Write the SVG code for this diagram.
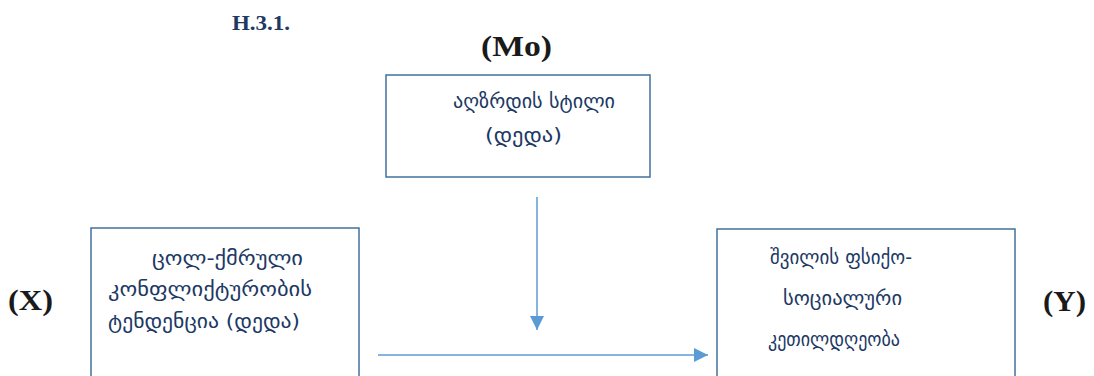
<svg xmlns="http://www.w3.org/2000/svg" width="1094" height="376" viewBox="0 0 1094 376">
<style>
.box{fill:#fff;stroke:#41719c;stroke-width:1.5}
.geo{font-family:"DejaVu Sans",sans-serif;font-size:20px;fill:#203864}
.lbl{font-family:"Liberation Serif",serif;font-weight:bold;font-size:29px;fill:#1a1a1a}
.hd{font-family:"Liberation Serif",serif;font-weight:bold;font-size:20px;fill:#203864}
.conn{stroke:#5b9bd5;stroke-width:1.5;fill:none}
</style>
<defs>
<marker id="ah" markerUnits="userSpaceOnUse" markerWidth="14" markerHeight="14" viewBox="0 0 14 14" refX="14" refY="7" orient="auto">
<path d="M0,0 L14,7 L0,14 Z" fill="#5b9bd5"/>
</marker>
</defs>
<rect width="1094" height="376" fill="#fff"/>
<text class="hd" x="232" y="30" textLength="58" lengthAdjust="spacingAndGlyphs">H.3.1.</text>
<text class="lbl" x="481" y="56" textLength="71" lengthAdjust="spacingAndGlyphs">(Mo)</text>
<text class="lbl" x="8" y="310" textLength="45" lengthAdjust="spacingAndGlyphs">(X)</text>
<text class="lbl" x="1043" y="311" textLength="43" lengthAdjust="spacingAndGlyphs">(Y)</text>
<g id="node-mo">
<rect class="box" x="386" y="75" width="264" height="102"/>
<text class="geo" x="453" y="108" textLength="162" lengthAdjust="spacingAndGlyphs">აღზრდის სტილი</text>
<text class="geo" x="485" y="142" textLength="77" lengthAdjust="spacingAndGlyphs">(დედა)</text>
</g>
<g id="node-x">
<rect class="box" x="91" y="228" width="268" height="160"/>
<text class="geo" x="152" y="265" textLength="151" lengthAdjust="spacingAndGlyphs">ცოლ-ქმრული</text>
<text class="geo" x="108" y="296" textLength="204" lengthAdjust="spacingAndGlyphs">კონფლიქტურობის</text>
<text class="geo" x="108" y="328" textLength="192" lengthAdjust="spacingAndGlyphs">ტენდენცია (დედა)</text>
</g>
<g id="node-y">
<rect class="box" x="717" y="229" width="298" height="160"/>
<text class="geo" x="770" y="264" textLength="142" lengthAdjust="spacingAndGlyphs">შვილის ფსიქო-</text>
<text class="geo" x="783" y="305" textLength="119" lengthAdjust="spacingAndGlyphs">სოციალური</text>
<text class="geo" x="768" y="346" textLength="132" lengthAdjust="spacingAndGlyphs">კეთილდღეობა</text>
</g>
<g id="connectors">
<line class="conn" x1="537" y1="197" x2="537" y2="330" marker-end="url(#ah)"/>
<line class="conn" x1="378" y1="355" x2="708" y2="355" marker-end="url(#ah)"/>
</g>
</svg>
